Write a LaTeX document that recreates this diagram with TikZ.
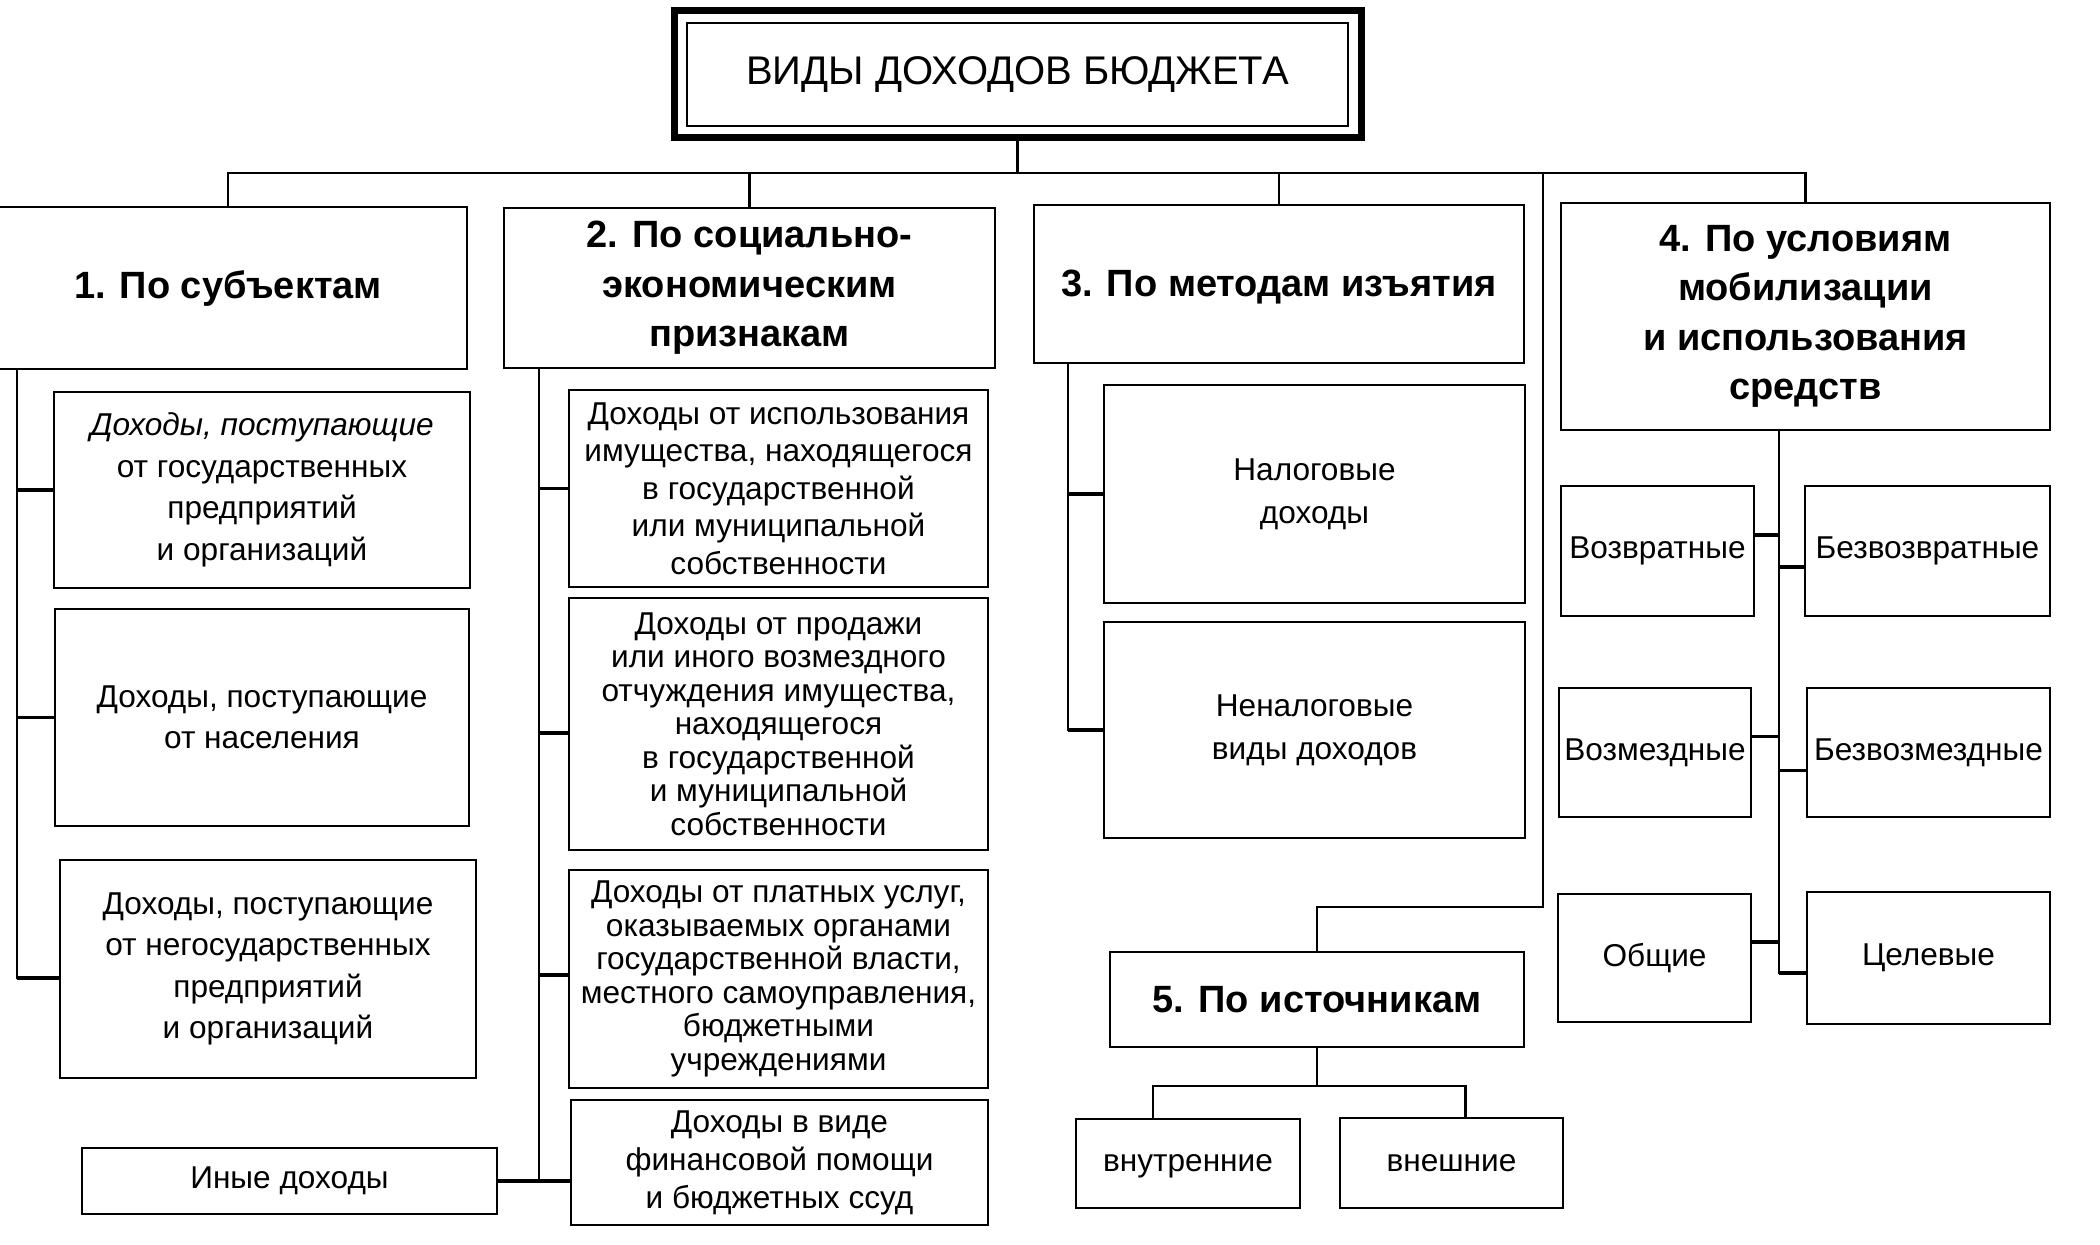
\documentclass[tikz,border=0pt]{standalone}
\usepackage{fontspec}
\setmainfont{Liberation Sans}
\usetikzlibrary{calc}
\newcommand\myfs[1]{\fontsize{15.8pt}{#1pt}\selectfont}
\newcommand\myhf{\fontsize{19pt}{24.75pt}\selectfont\bfseries}
\begin{document}
\begin{tikzpicture}[x=0.5pt,y=-0.5pt,
  rect/.style n args={4}{at={({(#1+#3)/2},{(#2+#4)/2})},
    minimum width={(#3-#1)*0.5pt}, minimum height={(#4-#2)*0.5pt}},
  box/.style={draw, line width=1.4pt, inner sep=0pt, align=center},
  hdr/.style={box, font=\myhf},
  conn/.style={line width=1.1pt},
  stub/.style={line width=1.7pt}]
\useasboundingbox[fill=white] (0,0) rectangle (2100,1244);

% title
\node[rect={674}{10}{1361}{137}, draw, line width=3.5pt] (title) {};
\node[rect={687}{23}{1348}{126}, draw, line width=1.3pt, inner sep=0pt,
  font=\fontsize{20pt}{24pt}\selectfont] (titlein) {ВИДЫ ДОХОДОВ БЮДЖЕТА};

% headers
\node[hdr, rect={-11}{207}{467}{369}] (h1) {1. По субъектам};
\node[hdr, rect={504}{208}{995}{368}] (h2) {2. По социально-\\экономическим\\признакам};
\node[hdr, rect={1034}{205}{1524}{363}, text depth=1pt] (h3) {3. По методам изъятия};
\node[hdr, rect={1561}{203}{2050}{430}] (h4) {4. По условиям\\мобилизации\\и использования\\средств};
\node[hdr, rect={1110}{952}{1524}{1047}] (h5) {5. По источникам};

% group 1
\node[box, font=\myfs{20.75}, rect={54}{392}{470}{588}] (c1a) {\textit{Доходы, поступающие}\\от государственных\\предприятий\\и организаций};
\node[box, font=\myfs{20.75}, rect={55}{609}{469}{826}] (c1b) {Доходы, поступающие\\от населения};
\node[box, font=\myfs{20.75}, rect={60}{860}{476}{1078}] (c1c) {Доходы, поступающие\\от негосударственных\\предприятий\\и организаций};
\node[box, font=\myfs{20}, rect={82}{1148}{497}{1214}] (inye) {Иные доходы};

% group 2
\node[box, font=\myfs{18.75}, rect={569}{390}{988}{587}] (c2a) {Доходы от использования\\имущества, находящегося\\в государственной\\или муниципальной\\собственности};
\node[box, font=\myfs{16.75}, rect={569}{598}{988}{850}] (c2b) {Доходы от продажи\\или иного возмездного\\отчуждения имущества,\\находящегося\\в государственной\\и муниципальной\\собственности};
\node[box, font=\myfs{16.75}, rect={569}{870}{988}{1088}] (c2c) {Доходы от платных услуг,\\оказываемых органами\\государственной власти,\\местного самоуправления,\\бюджетными\\учреждениями};
\node[box, font=\myfs{19}, rect={571}{1100}{988}{1225}] (c2d) {Доходы в виде\\финансовой помощи\\и бюджетных ссуд};

% group 3
\node[box, font=\myfs{21.5}, rect={1104}{385}{1525}{603}] (c3a) {Налоговые\\доходы};
\node[box, font=\myfs{21.5}, rect={1104}{622}{1525}{838}] (c3b) {Неналоговые\\виды доходов};

% group 4
\node[box, font=\myfs{20}, rect={1561}{486}{1754}{616}] (c4a) {Возвратные};
\node[box, font=\myfs{20}, rect={1805}{486}{2050}{616}] (c4b) {Безвозвратные};
\node[box, font=\myfs{20}, rect={1559}{688}{1751}{817}] (c4c) {Возмездные};
\node[box, font=\myfs{20}, rect={1807}{688}{2050}{817}] (c4d) {Безвозмездные};
\node[box, font=\myfs{20}, rect={1558}{894}{1751}{1022}] (c4e) {Общие};
\node[box, font=\myfs{20}, rect={1807}{892}{2050}{1024}] (c4f) {Целевые};

% group 5
\node[box, font=\myfs{20}, rect={1076}{1119}{1300}{1208}, text depth=1pt] (s5a) {внутренние};
\node[box, font=\myfs{20}, rect={1340}{1118}{1563}{1208}] (s5b) {внешние};

% top bus
\coordinate (bus) at (1018,173);
\draw[conn] (title.south) -- (title.south |- bus);
\draw[conn] (h1.north) |- (bus) -| (h4.north);
\draw[conn] (h2.north) -- (h2.north |- bus);
\draw[conn] (h3.north) -- (h3.north |- bus);
\coordinate (j5) at (1543,173);
\coordinate (k5) at (1543,907);
\draw[conn] (j5) -- (k5) -| (h5.north);

% group 1 connectors
\coordinate (v1) at (17,369);
\coordinate (e1c) at ($(c1c.west)+(0,9)$);
\draw[conn] (v1) |- (e1c);
\draw[stub] (c1a.west) -- (c1a.west -| v1);
\draw[stub] (c1b.west) -- (c1b.west -| v1);
\draw[stub] (e1c) -- (e1c -| v1);

% group 2 connectors
\coordinate (v2) at (539,368);
\draw[conn] (v2) -- (inye.east -| v2);
\draw[stub] (c2a.west) -- (c2a.west -| v2);
\coordinate (e2b) at ($(c2b.west)+(0,9)$);
\draw[stub] (e2b) -- (e2b -| v2);
\coordinate (e2c) at ($(c2c.west)+(0,-4)$);
\draw[stub] (e2c) -- (e2c -| v2);
\draw[stub] (inye.east) -- (inye.east -| c2d.west);

% group 3 connectors
\coordinate (v3) at (1068,363);
\draw[conn] (v3) |- (c3b.west);
\draw[stub] (c3a.west) -- (c3a.west -| v3);
\draw[stub] (c3b.west) -- (c3b.west -| v3);

% group 4 connectors
\coordinate (v4) at (1779,430);
\coordinate (e4a) at ($(c4a.east)+(0,-16)$);
\coordinate (e4b) at ($(c4b.west)+(0,16)$);
\coordinate (e4c) at ($(c4c.east)+(0,-16)$);
\coordinate (e4d) at ($(c4d.west)+(0,18)$);
\coordinate (e4e) at ($(c4e.east)+(0,-16)$);
\coordinate (e4f) at ($(c4f.west)+(0,15)$);
\draw[conn] (v4) |- (e4f);
\foreach \p in {e4a,e4b,e4c,e4d,e4e,e4f} \draw[stub] (\p) -- (\p -| v4);

% group 5 connectors
\coordinate (bus5) at (1321,1086);
\coordinate (t5a) at ($(s5a.north west)+(78,0)$);
\coordinate (t5b) at ($(s5b.north east)+(-99,0)$);
\draw[conn] (h5.south) -- (h5.south |- bus5);
\draw[conn] (t5a) |- (h5.south |- bus5) -| (t5b);
\end{tikzpicture}
\end{document}
